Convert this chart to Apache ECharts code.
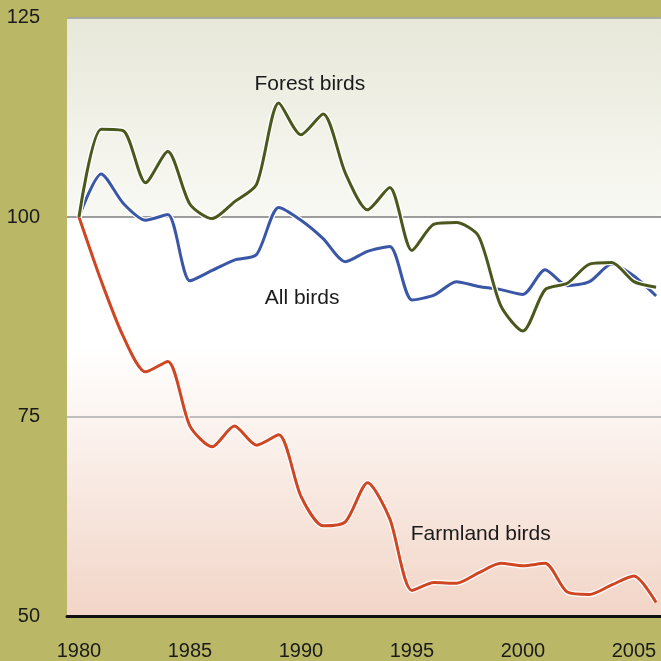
<!DOCTYPE html>
<html>
<head>
<meta charset="utf-8">
<script src="https://cdn.jsdelivr.net/npm/echarts@6/dist/echarts.min.js"></script>
<style>
  html, body { margin: 0; padding: 0; background: #bab866; }
  #chart { width: 661px; height: 661px; }
</style>
</head>
<body>
<div id="chart"></div>
<script>
// bird population index, 1980 = 100
const years = [1980, 1981, 1982, 1983, 1984, 1985, 1986, 1987, 1988, 1989,
               1990, 1991, 1992, 1993, 1994, 1995, 1996, 1997, 1998, 1999,
               2000, 2001, 2002, 2003, 2004, 2005, 2006];
const forestBirds = [100, 111.0, 110.8, 104.3, 108.2, 101.6, 99.8, 101.9, 104.1, 114.3,
                     110.3, 112.9, 105.5, 100.9, 103.7, 95.8, 99.1, 99.3, 97.6, 88.9,
                     85.7, 90.9, 91.7, 94.1, 94.3, 91.9, 91.2];
const allBirds = [100, 105.4, 101.7, 99.6, 100.3, 92.0, 93.3, 94.6, 95.3, 101.2,
                  99.6, 97.3, 94.4, 95.7, 96.3, 89.6, 90.2, 91.9, 91.3, 90.9,
                  90.3, 93.4, 91.4, 91.9, 94.1, 92.6, 90.1];
const farmlandBirds = [100, 92.0, 85.0, 80.6, 81.9, 73.8, 71.2, 73.8, 71.4, 72.7,
                       65.0, 61.3, 61.8, 66.7, 62.2, 53.2, 54.2, 54.1, 55.4, 56.6,
                       56.3, 56.6, 53.0, 52.7, 53.9, 55.0, 51.7];
const xTickLabels = [1980, 1985, 1990, 1995, 2000, 2005];

// series names written inside the plot
const noteText = ['Forest birds', 'All birds', 'Farmland birds'];
const noteX = [1990.4, 1990.05, 1998.1];
const noteY = [116.6, 89.8, 60.3];

const FONT = 'Liberation Sans';

function pairs(ys) {
    return years.map((y, i) => [y, ys[i]]);
}

// each line gets a thin white halo drawn underneath
function lineSeries(name, ys, color) {
    return [
        {
            type: 'line', name: name + '-halo', data: pairs(ys),
            smooth: 0.25, symbol: 'none', silent: true,
            lineStyle: { color: '#ffffff', width: 5.5 }
        },
        {
            type: 'line', name: name, data: pairs(ys),
            smooth: 0.25, symbol: 'none', silent: true,
            lineStyle: { color: color, width: 3 }
        }
    ];
}

const chart = echarts.init(document.getElementById('chart'));
chart.setOption({
    animation: false,
    backgroundColor: '#bab866',
    grid: {
        left: 67, right: 0, top: 17.5, bottom: 43.5,
        show: true, borderWidth: 0,
        backgroundColor: {
            type: 'linear', x: 0, y: 0, x2: 0, y2: 1,
            colorStops: [
                { offset: 0, color: '#e7e8d9' },
                { offset: 0.332, color: '#f9f9f4' },
                { offset: 0.334, color: '#ffffff' },
                { offset: 0.55, color: '#ffffff' },
                { offset: 1, color: '#f2d5c7' }
            ]
        }
    },
    xAxis: {
        type: 'value',
        min: 1979.46,
        max: 2006.22,
        axisLine: { show: true, lineStyle: { color: '#111111', width: 3 } },
        axisTick: { show: false },
        splitLine: { show: false },
        axisLabel: {
            customValues: xTickLabels,
            fontFamily: FONT, fontSize: 20, color: '#1a1a1a',
            margin: 25,
            formatter: (v) => String(v)
        }
    },
    yAxis: {
        type: 'value',
        min: 50,
        max: 125,
        interval: 25,
        axisLine: { show: false },
        axisTick: { show: false },
        axisLabel: {
            fontFamily: FONT, fontSize: 20, color: '#1a1a1a',
            margin: 27,
            padding: [4, 0, 0, 0]
        },
        splitLine: {
            show: true,
            lineStyle: {
                color: ['rgba(0,0,0,0)', '#acacac', '#7c7c7c', '#9a9a9a'],
                width: 1.5
            }
        }
    },
    series: [
        ...lineSeries('Farmland birds', farmlandBirds, '#cf4623'),
        ...lineSeries('All birds', allBirds, '#3a56a6'),
        ...lineSeries('Forest birds', forestBirds, '#4a581d'),
        {
            type: 'scatter',
            silent: true,
            symbolSize: 0,
            data: noteText.map((t, i) => [noteX[i], noteY[i], t]),
            label: {
                show: true,
                position: 'inside',
                formatter: (p) => p.data[2],
                fontFamily: FONT,
                fontSize: 21,
                color: '#1a1a1a',
                textBorderWidth: 0,
                textBorderColor: 'transparent',
                opacity: 1
            }
        }
    ]
});
</script>
</body>
</html>
